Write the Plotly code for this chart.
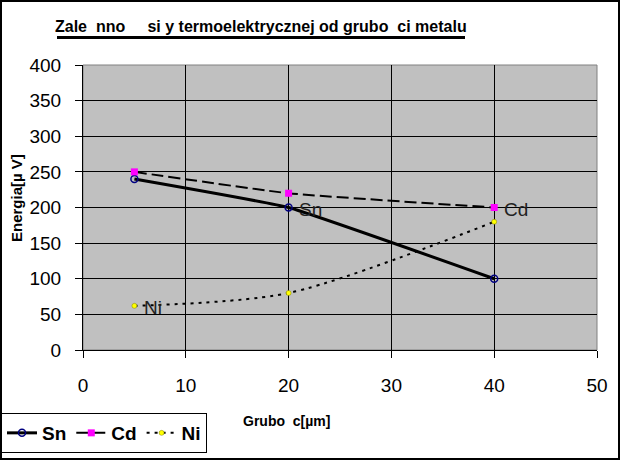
import plotly.graph_objects as go

thickness = [5, 20, 40]
sn = [240, 200, 100]
cd = [250, 220, 200]
ni = [62, 80, 180]
x_ticks = [0, 10, 20, 30, 40, 50]
y_ticks = [0, 50, 100, 150, 200, 250, 300, 350, 400]

FONT = "Liberation Sans, Arial, sans-serif"

L, R, T, B = 83, 23, 65, 110
W, H = 620, 460
pw, ph = W - L - R, H - T - B

def px_x(px):
    return (px - L) / pw

def px_y(py):
    return (H - B - py) / ph

fig = go.Figure()
fig.add_trace(go.Scatter(
    x=thickness, y=sn, name="<b>Sn</b>", mode="lines+markers",
    line=dict(color="black", width=3, shape="spline", smoothing=0.3),
    marker=dict(symbol="circle-open", color="#000080", size=7, line=dict(width=1.5, color="#000080")),
))
fig.add_trace(go.Scatter(
    x=thickness, y=cd, name="<b>Cd</b>", mode="lines+markers",
    line=dict(color="black", width=2, dash="12px,5px", shape="spline", smoothing=0.4),
    marker=dict(symbol="square", color="#FF00FF", size=7),
))
fig.add_trace(go.Scatter(
    x=thickness, y=ni, name="<b>Ni</b>", mode="lines+markers",
    line=dict(color="black", width=2, dash="3px,5px", shape="spline", smoothing=0.8),
    marker=dict(symbol="circle", color="#FFFF00", size=5, line=dict(width=0.5, color="#808000")),
))

labels = [("Sn", thickness[1], sn[1]), ("Cd", thickness[2], cd[2]), ("Ni", thickness[0], ni[0])]
for txt, xv, yv in labels:
    fig.add_annotation(x=xv, y=yv, text=txt, showarrow=False, xanchor="left",
                       yanchor="middle", xshift=8, yshift=-2,
                       font=dict(family=FONT, size=19, color="#222222"))

fig.add_annotation(xref="paper", yref="paper", x=px_x(261), y=px_y(26),
                   text="<b>Zale  nno     si y termoelektrycznej od grubo  ci metalu</b>",
                   showarrow=False, xanchor="center", yanchor="middle",
                   font=dict(family=FONT, size=16, color="black"))
# title underline
fig.add_shape(type="line", xref="paper", yref="paper", x0=px_x(57), x1=px_x(465),
              y0=px_y(37.5), y1=px_y(37.5), line=dict(color="black", width=3), layer="above")
fig.add_annotation(xref="paper", yref="paper", x=px_x(286), y=px_y(421),
                   text="<b>Grubo  c[µm]</b>", showarrow=False, xanchor="center", yanchor="middle",
                   font=dict(family=FONT, size=14, color="black"))
fig.add_annotation(xref="paper", yref="paper", x=px_x(16), y=px_y(198),
                   text="<b>Energia[µ V]</b>", showarrow=False, textangle=-90,
                   xanchor="center", yanchor="middle",
                   font=dict(family=FONT, size=15, color="black"))

# outer border
fig.add_shape(type="rect", xref="paper", yref="paper",
              x0=px_x(1), x1=px_x(W - 1), y0=px_y(H - 1), y1=px_y(1),
              line=dict(color="black", width=2), layer="above")
# plot area border
fig.add_shape(type="rect", xref="paper", yref="paper", x0=0, x1=1, y0=0, y1=1,
              line=dict(color="#808080", width=1), layer="below")

fig.update_layout(
    width=W, height=H,
    margin=dict(l=L, r=R, t=T, b=B, autoexpand=False),
    paper_bgcolor="white", plot_bgcolor="#C0C0C0",
    font=dict(family=FONT, color="black"),
    showlegend=True,
    legend=dict(orientation="h", x=px_x(1), y=px_y(413),
                xanchor="left", yanchor="top",
                bordercolor="black", borderwidth=1, bgcolor="white",
                font=dict(family=FONT, size=19, color="black"),
                itemwidth=30, tracegroupgap=0),
)
fig.update_xaxes(range=[0, 50], tickvals=x_ticks, ticks="outside", ticklen=7,
                 tickcolor="black", showline=True, linecolor="black", linewidth=1,
                 showgrid=True, gridcolor="black", gridwidth=1, zeroline=False,
                 tickfont=dict(family=FONT, size=19), ticklabelstandoff=11, automargin=False)
fig.update_yaxes(range=[0, 400], tickvals=y_ticks, ticks="outside", ticklen=7,
                 tickcolor="black", showline=True, linecolor="black", linewidth=1,
                 showgrid=True, gridcolor="black", gridwidth=1, zeroline=False,
                 tickfont=dict(family=FONT, size=19), ticklabelstandoff=10, automargin=False)

fig.write_html("out.html", config={"displayModeBar": False},
               post_script="document.body.style.margin='0';document.body.style.overflow='hidden';")
